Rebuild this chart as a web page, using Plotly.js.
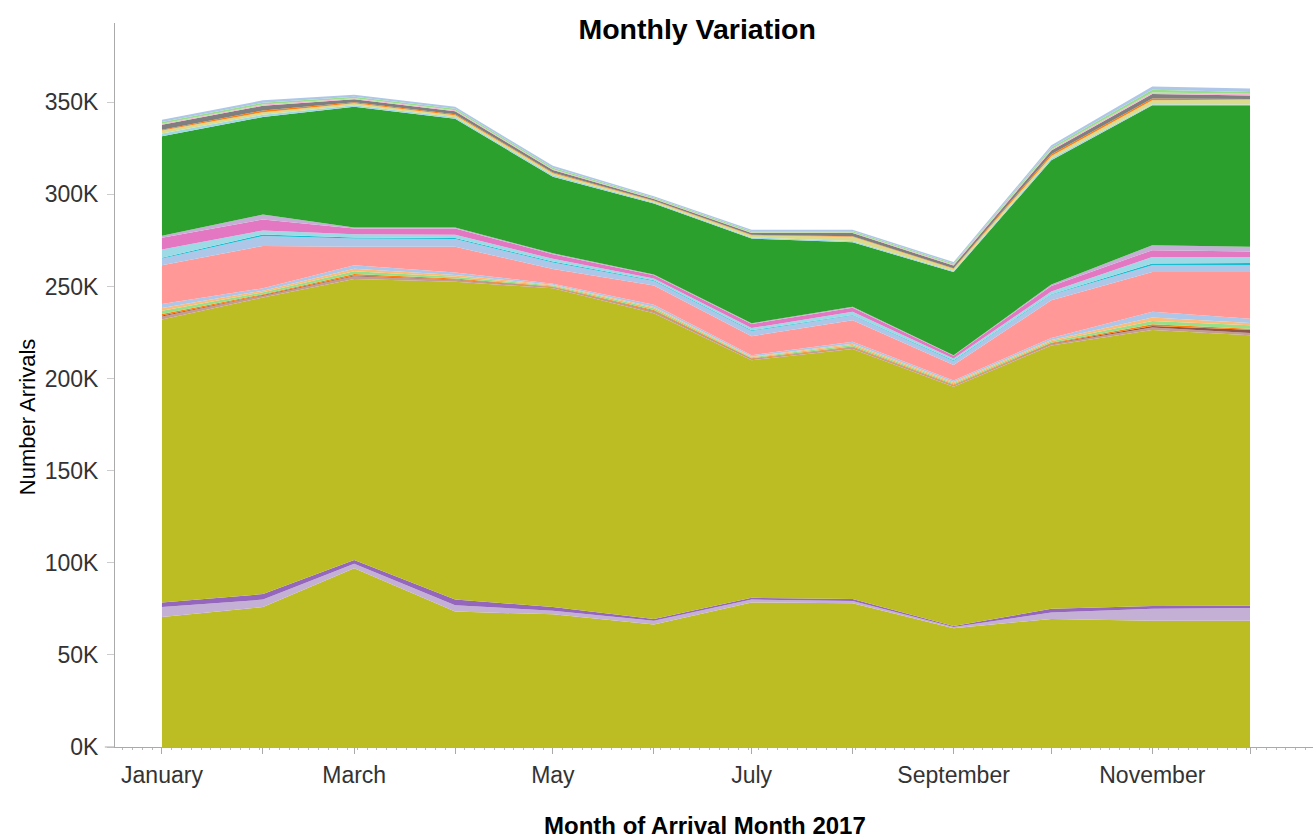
<!DOCTYPE html>
<html>
<head>
<meta charset="utf-8">
<script src="https://cdn.plot.ly/plotly-3.0.1.min.js"></script>
<style>html,body{margin:0;padding:0;background:#fff;}#chart{width:1313px;height:840px;}</style>
</head>
<body>
<div id="chart"></div>
<script>
// Months of 2017 (values in thousands of arrivals)
const months = ['2017-01-01','2017-02-01','2017-03-01','2017-04-01','2017-05-01','2017-06-01',
                '2017-07-01','2017-08-01','2017-09-01','2017-10-01','2017-11-01','2017-12-01'];
const monthTickLabels = ['January','','March','','May','','July','','September','','November',''];
const yTickVals = [0,50,100,150,200,250,300,350];
const yTickText = ['0K','50K','100K','150K','200K','250K','300K','350K'];

// Stacked series, bottom to top
const olive1      = [70.5, 76, 97, 73.5, 72, 66.5, 78.5, 78, 64.5, 69.5, 68.5, 68.5];
const lightPurple1= [5.5, 4, 2.5, 3.5, 2, 2, 1.5, 1.3, 0.6, 3.5, 6.5, 7];
const purple      = [2.5, 3, 2, 3, 2, 1, 1, 1, 0.6, 2, 1.5, 1.2];
const olive2      = [153.5, 161, 152.5, 172.5, 173, 166, 129, 135.7, 129.8, 143, 149.8, 146.8];
const lightBrown  = [1.7, 1.0, 1.5, 1.0, 0.5, 0.9, 0.5, 0.8, 0.7, 0.8, 1.4, 1.2];
const brown       = [0.5, 0.3, 0.5, 0.3, 0.2, 0.3, 0.2, 0.2, 0.2, 0.2, 0.8, 1.8];
const orange1     = [0.9, 0.5, 0.8, 0.5, 0.3, 0.5, 0.3, 0.4, 0.4, 0.4, 1.0, 0.6];
const lightGreen1 = [1.7, 1.0, 1.5, 1.0, 0.5, 0.9, 0.5, 0.8, 0.7, 0.8, 1.8, 1.8];
const lightOrange = [1.5, 0.9, 1.3, 0.9, 0.4, 0.8, 0.5, 0.7, 0.6, 0.7, 1.8, 1.2];
const lightBlue1  = [2.2, 1.3, 1.9, 1.3, 0.6, 1.1, 0.7, 1.1, 0.9, 1.1, 3.1, 2.4];
const lightRed    = [21, 23, 10, 14, 8, 10.5, 10.3, 11.7, 8.3, 20.5, 21.7, 25.4];
const lightBlue2  = [3.6, 5.4, 4.5, 4.3, 3.5, 2.4, 2.8, 2.5, 2.2, 3.0, 3.6, 3.6];
const cyan        = [0.5, 0.8, 0.5, 0.5, 0.5, 0.4, 0.4, 0.3, 0.4, 0.3, 0.9, 1.2];
const lightCyan1  = [4.5, 2.2, 1.8, 1.7, 1.5, 1.0, 1.2, 1.8, 1.0, 1.5, 3.6, 3.2];
const pink        = [6.3, 6.0, 3.2, 3.5, 2.5, 1.8, 2.2, 2.2, 1.5, 3.0, 3.7, 3.0];
const lightPurple2= [1.1, 2.6, 0.5, 0.5, 0.5, 0.4, 0.4, 0.5, 0.3, 0.7, 2.7, 2.6];
const green       = [54, 53, 65.5, 59, 41.5, 38.5, 46, 35, 45.1, 67.5, 75.9, 76.8];
const lightCyan2  = [1.5, 1.2, 0.8, 0.8, 0.8, 0.5, 0.6, 0.6, 0.6, 0.9, 0.6, 0.5];
const lightOlive  = [1.6, 1.4, 1.2, 1.1, 1.2, 0.9, 1.2, 2.4, 1.2, 1.4, 2.2, 2.7];
const orange2     = [0.4, 0.9, 0.5, 0.6, 0.3, 0.2, 0.2, 0.2, 0.3, 1.0, 0.9, 0.3];
const gray        = [2.8, 2.6, 1.6, 1.6, 1.4, 0.9, 1.0, 1.8, 1.4, 2.0, 2.5, 1.8];
const lightPink   = [0.5, 0.6, 0.5, 0.5, 0.4, 0.3, 0.3, 0.3, 0.5, 0.7, 0.8, 1.0];
const lightGreen2 = [0.9, 1.0, 0.8, 0.8, 0.8, 0.5, 0.6, 0.6, 0.6, 0.9, 1.4, 0.9];
const lightBlue3  = [1.3, 1.3, 1.1, 1.1, 1.1, 0.7, 0.9, 0.9, 0.8, 1.2, 1.8, 2.0];

const layers = [
  [olive1, '#bcbd22'], [lightPurple1, '#c5b0d5'], [purple, '#9467bd'], [olive2, '#bcbd22'],
  [lightBrown, '#c49c94'], [brown, '#8c564b'], [orange1, '#ff7f0e'], [lightGreen1, '#98df8a'],
  [lightOrange, '#ffbb78'], [lightBlue1, '#aec7e8'], [lightRed, '#ff9896'], [lightBlue2, '#aec7e8'],
  [cyan, '#17becf'], [lightCyan1, '#9edae5'], [pink, '#e377c2'], [lightPurple2, '#c5b0d5'],
  [green, '#2ca02c'], [lightCyan2, '#9edae5'], [lightOlive, '#dbdb8d'], [orange2, '#ff7f0e'],
  [gray, '#7f7f7f'], [lightPink, '#f7b6d2'], [lightGreen2, '#98df8a'], [lightBlue3, '#aec7e8']
];

const traces = layers.map(([vals, col]) => ({
  x: months, y: vals, type: 'scatter', mode: 'none',
  stackgroup: 'one', fillcolor: col, line: {width: 0}, hoverinfo: 'skip', showlegend: false
}));

const FONT = 'Liberation Sans, Arial, sans-serif';
const DAY = 86400000;

const layout = {
  width: 1313, height: 840,
  margin: {l: 115, r: 0, t: 23, b: 93},
  paper_bgcolor: '#fff', plot_bgcolor: '#fff',
  showlegend: false,
  font: {family: FONT, color: '#333'},
  title: {
    text: 'Monthly Variation',
    font: {family: FONT, size: 28.5, weight: 'bold', color: '#000'},
    xref: 'container', x: 0.531, xanchor: 'center',
    yref: 'container', y: 0.966, yanchor: 'middle'
  },
  xaxis: {
    type: 'date',
    range: ['2016-12-17 14:00', '2017-12-20 08:00'],
    tickmode: 'array', tickvals: months, ticktext: monthTickLabels,
    ticks: 'outside', ticklen: 6, tickcolor: '#aaa', tickwidth: 1,
    showline: true, linecolor: '#aaa', linewidth: 1,
    showgrid: false, zeroline: false,
    tickfont: {family: FONT, size: 23, color: '#333'},
    ticklabelstandoff: 1,
    minor: {ticks: 'outside', ticklen: 2, dtick: 3 * DAY, tick0: '2017-01-01', tickcolor: '#bbb', showgrid: false},
    fixedrange: true
  },
  yaxis: {
    range: [0, 393],
    tickmode: 'array', tickvals: yTickVals, ticktext: yTickText,
    ticks: 'outside', ticklen: 7, tickcolor: '#ccc', tickwidth: 1,
    showline: true, linecolor: '#aaa', linewidth: 1,
    showgrid: false, zeroline: false,
    tickfont: {family: FONT, size: 23, color: '#333'},
    ticklabelstandoff: 4,
    fixedrange: true
  },
  shapes: [
    {type: 'line', xref: 'paper', yref: 'paper', x0: -0.0085, x1: 0, y0: 0, y1: 0,
     line: {color: '#aaa', width: 1}}
  ],
  annotations: [
    {text: 'Number Arrivals', textangle: -90, showarrow: false,
     xref: 'paper', x: -0.073, xanchor: 'center',
     yref: 'paper', y: 0.455, yanchor: 'middle',
     font: {family: FONT, size: 22, color: '#000'}},
    {text: 'Month of Arrival Month 2017', showarrow: false,
     xref: 'paper', x: 0.4925, xanchor: 'center',
     yref: 'paper', y: -0.109, yanchor: 'middle',
     font: {family: FONT, size: 24, weight: 'bold', color: '#000'}}
  ]
};

Plotly.newPlot('chart', traces, layout, {displayModeBar: false, staticPlot: true});
</script>
</body>
</html>
